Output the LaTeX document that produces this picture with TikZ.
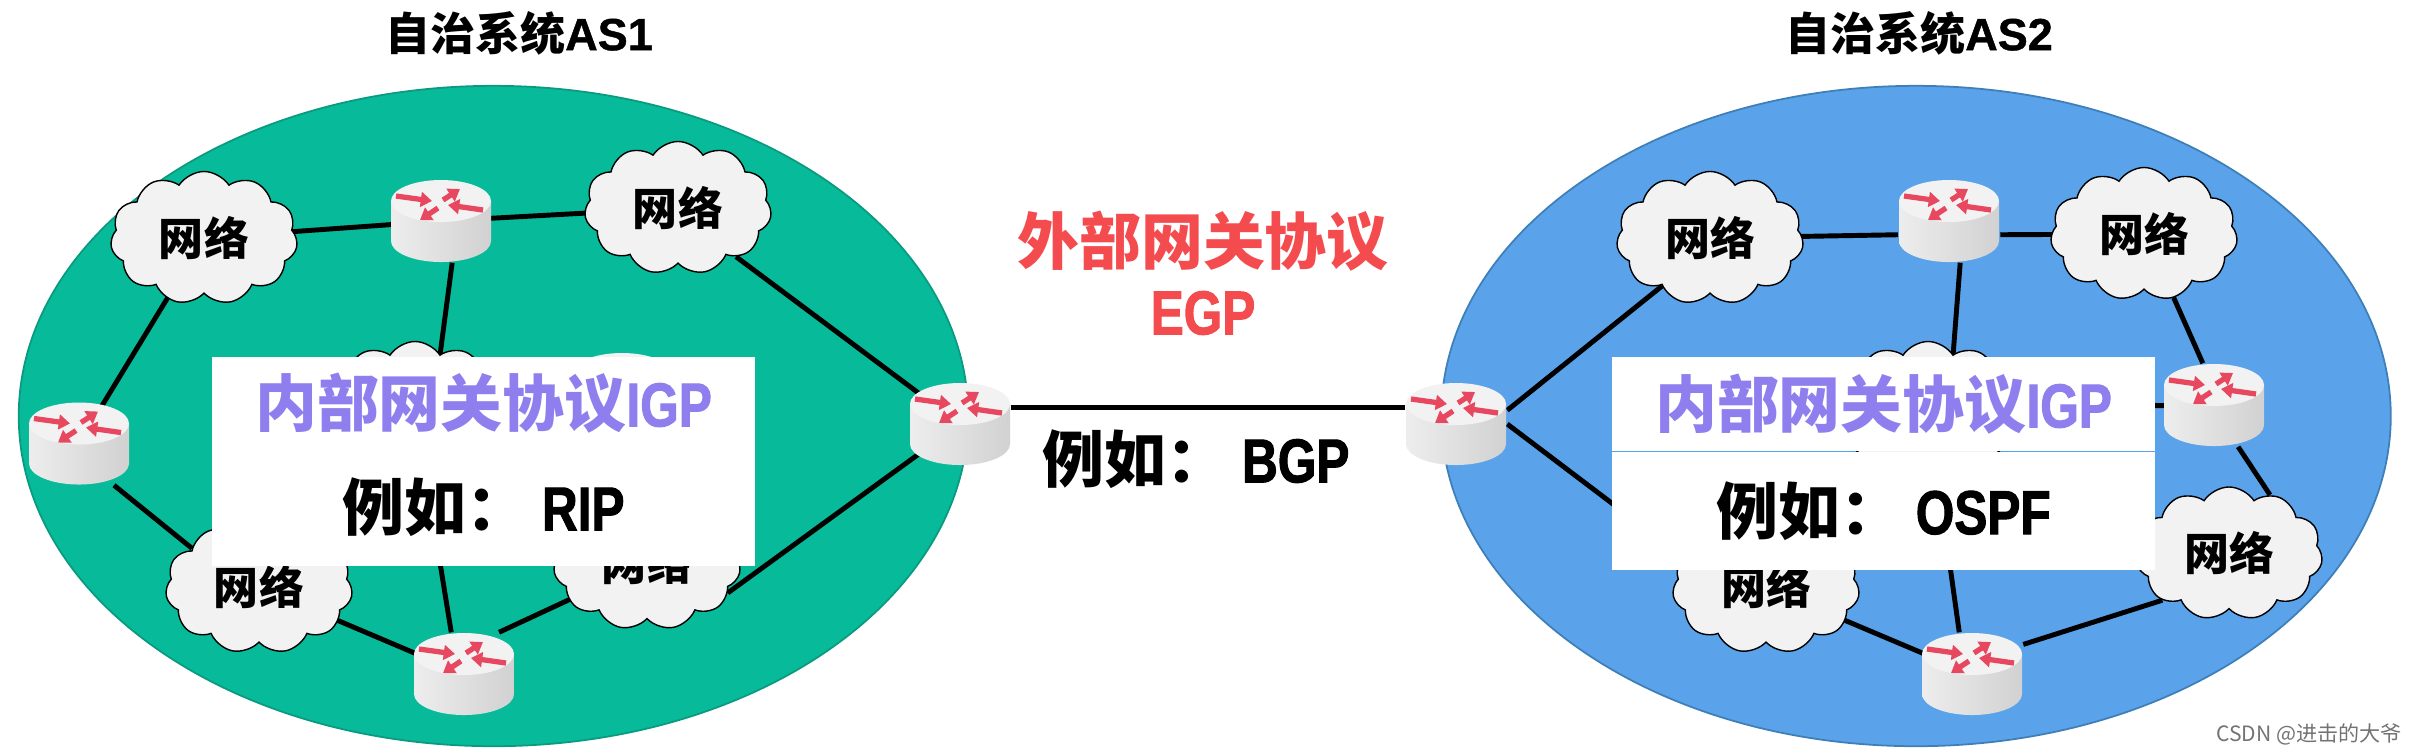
\documentclass[tikz,border=0pt]{standalone}
\usepackage{fontspec}
\setmainfont{Noto Sans CJK SC}[BoldFont=Noto Sans CJK SC Black]
\newfontfamily\latinbig{Liberation Sans}[FakeStretch=0.8,BoldFeatures={FakeBold=1.6}]
\newfontfamily\latintitle{Liberation Sans}[BoldFeatures={FakeBold=1}]
\usetikzlibrary{arrows.meta,positioning,shapes.geometric,shapes.symbols,backgrounds}
\definecolor{asgreen}{HTML}{07BB9A}
\definecolor{asgreenedge}{HTML}{0A9A80}
\definecolor{asblue}{HTML}{5AA3EA}
\definecolor{asblueedge}{HTML}{3F7FB8}
\definecolor{igppurple}{HTML}{8F7FEE}
\definecolor{egpred}{HTML}{F44B4F}
\definecolor{routerred}{HTML}{E8485F}
\definecolor{cloudgray}{HTML}{F2F2F3}
\tikzset{
  asarea/.style={ellipse,draw,line width=0.5pt,minimum width=9.49cm,minimum height=6.6cm,inner sep=0pt},
  titlelabel/.style={font=\fontsize{12.8}{15}\selectfont\bfseries},
  biglabel/.style={font=\fontsize{17.6}{20}\selectfont\bfseries},
  netcloud/.style={cloud,cloud puffs=11,cloud puff arc=115,aspect=1.4,draw=black,line width=0.4pt,fill=cloudgray,
    minimum width=1.87cm,minimum height=1.33cm,inner sep=0pt,font=\fontsize{12.8}{15}\selectfont\bfseries},
  routerbox/.style={rectangle,minimum width=1.01cm,minimum height=0.82cm,inner sep=0pt},
  routerarrow/.style={routerred,line width=1.5pt,-{Triangle[length=3.2pt,width=4.2pt]}},
  linkline/.style={line width=1.4pt,black},
  whitebox/.style={fill=white,inner sep=0pt,minimum width=5.43cm,align=center},
}
\begin{document}
\begin{tikzpicture}[x=0.01cm,y=-0.01cm]
\useasboundingbox (0,0) rectangle (2409,753);

\node[titlelabel] (titlea) at (519,33) {自治系统{\latintitle AS1}};
\node[titlelabel] (titleb) at (1919,33) {自治系统{\latintitle AS2}};

% routers, the two in the middle of each area sit mostly under the white boxes
\foreach \routername/\routerpos in {ra/{441,221},rb/{79,443.5},rc/{960,424},rd/{464,674},rx/{622,394},
    re/{1949,221},rf/{1456,424},rg/{2214,405},rh/{1972,674}}{
  \node[routerbox] (\routername) at (\routerpos) {};
  \begin{scope}[shift={(\routerpos)}]
    \shade[left color=black!7,right color=black!18] (-50,-20) -- (-50,20)
      arc[start angle=180,end angle=360,x radius=0.5cm,y radius=0.21cm] -- (50,-20) -- cycle;
    \fill[black!5] (0,-20) ellipse [x radius=0.5cm,y radius=0.21cm];
    \draw[routerarrow] (-45,-25) -- (-9,-20);
    \draw[routerarrow] (2,-21) -- (19,-32);
    \draw[routerarrow] (42,-11) -- (7,-16);
    \draw[routerarrow] (-3,-13) -- (-21,-1);
  \end{scope}
}

\node[netcloud] (ca) at (204,238) {网络};
\node[netcloud] (cb) at (678,208) {网络};
\node[netcloud] (cc) at (415,408) {};
\node[netcloud] (cd) at (259,587) {网络};
\node[netcloud] (ce) at (647,563.5) {\raisebox{-8pt}{网络}};
\node[netcloud] (cf) at (1710,238) {网络};
\node[netcloud] (cg) at (2144,234) {网络};
\node[netcloud] (ch) at (1928,408) {};
\node[netcloud] (ci) at (2229,553.5) {网络};
\node[netcloud] (cj) at (1766,587) {网络};

\begin{scope}[on background layer]
\node[asarea,fill=asgreen,draw=asgreenedge] (asa) at (493.5,416) {};
\node[asarea,fill=asblue,draw=asblueedge] (asb) at (1916,416) {};

\draw[linkline] (rc.18) -- (rf.162);

\draw[linkline] (ca.center) -- (ra.center);
\draw[linkline] (ra.center) -- (cb.center);
\draw[linkline] (cb.-40) -- (rc.center);
\draw[linkline] (ra.-75) -- (cc.65);
\draw[linkline] (ca.center) -- (rb.center);
\draw[linkline] (rb.-50) -- (cd.150);
\draw[linkline] (cd.center) -- (rd.center);
\draw[linkline] (rd.107) -- (cc.center);
\draw[linkline] (rd.50) -- (ce.center);
\draw[linkline] (ce.-20) -- (rc.center);

\draw[linkline] (cf.center) -- (re.195);
\draw[linkline] (re.-15) -- (cg.center);
\draw[linkline] (rf.15) -- (cf.225);
\draw[linkline] (rf.0) -- (cj.160);
\draw[linkline] (re.-75) -- (ch.65);
\draw[linkline] (rh.107) -- (ch.center);
\draw[linkline] (cj.center) -- (rh.center);
\draw[linkline] (rh.30) -- (ci.215);
\draw[linkline] (cg.-65) -- (rg.105);
\draw[linkline] (rg.-60) -- (ci.55);
\draw[linkline] (rg.center) -- (ch.center);
\end{scope}

\node[whitebox,minimum height=0.915cm,biglabel,text=igppurple] (igpa) at (483.5,403) {内部网关协议{\latinbig IGP}};
\node[whitebox,minimum height=1.17cm,biglabel] (ripa) at (483.5,507) {例如：{\latinbig\ RIP}};
\node[whitebox,minimum height=0.945cm,biglabel,text=igppurple] (igpb) at (1883.5,404) {内部网关协议{\latinbig IGP}};
\node[whitebox,minimum height=1.175cm,biglabel] (ospfb) at (1883.5,510.7) {例如：{\latinbig\ OSPF}};

\node[biglabel,text=egpred] (egpa) at (1203,241) {外部网关协议};
\node[biglabel,text=egpred] (egpb) at (1203,313) {\latinbig EGP};
\node[biglabel] (bgpa) at (1196,459) {例如：{\latinbig\ BGP}};

\node[font=\fontsize{6}{7}\selectfont,text=black!55] (mark) at (2309,734) {CSDN @进击的大爷};
\end{tikzpicture}
\end{document}
